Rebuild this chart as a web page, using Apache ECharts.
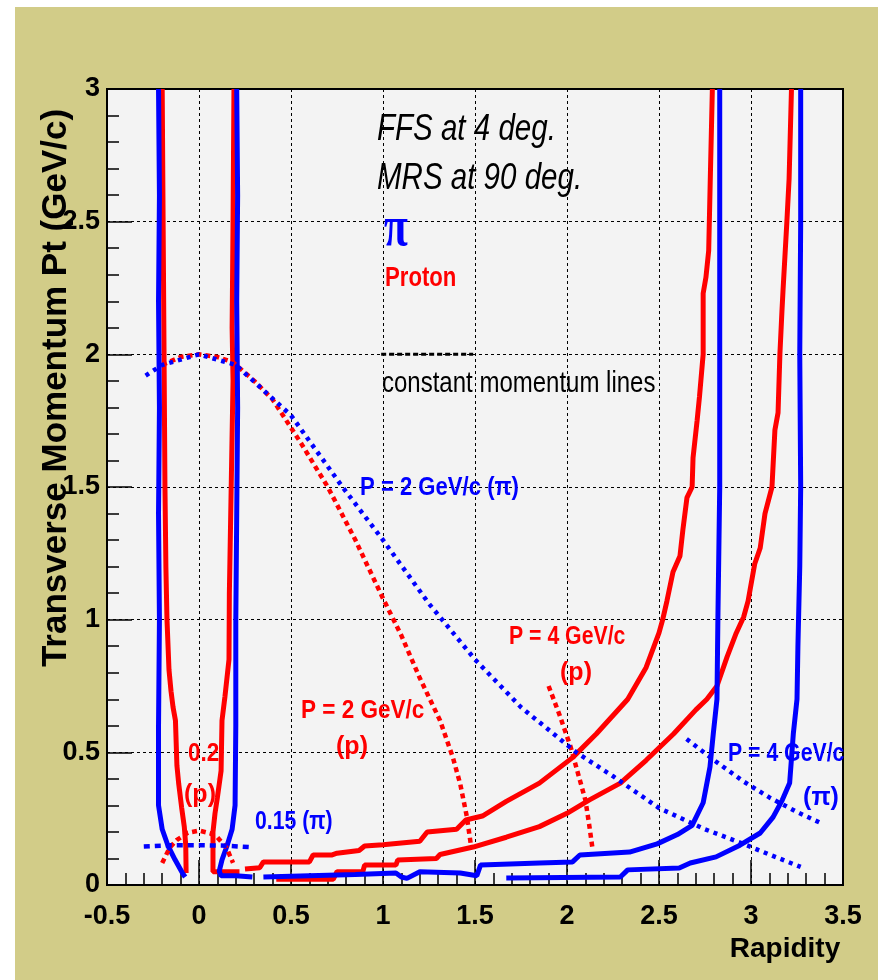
<!DOCTYPE html>
<html>
<head>
<meta charset="utf-8">
<script src="https://cdn.jsdelivr.net/npm/echarts@6/dist/echarts.min.js"></script>
<style>
html, body { margin: 0; padding: 0; background: #fff; }
#main { width: 878px; height: 980px; }
</style>
</head>
<body>
<div id="main"></div>
<script>
// acceptance boundaries, [rapidity, pt]
var blueMrsLeft = [[-0.22,3.0],[-0.215,2.6],[-0.22,2.2],[-0.215,1.8],[-0.22,1.4],[-0.215,1.0],[-0.22,0.6],[-0.22,0.3],[-0.2,0.21],[-0.168,0.147],[-0.13,0.095],[-0.09,0.045],[-0.075,0.03]];
var blueMrsRight = [[0.205,3.0],[0.21,2.6],[0.205,2.2],[0.21,1.8],[0.205,1.4],[0.2,1.0],[0.2,0.6],[0.196,0.3],[0.18,0.21],[0.152,0.147],[0.125,0.095],[0.11,0.052],[0.12,0.035],[0.2,0.035],[0.29,0.03]];
var blueFfsInner = [[0.35,0.03],[0.6,0.035],[0.85,0.04],[1.07,0.045],[1.1,0.03],[1.13,0.025],[1.2,0.05],[1.42,0.045],[1.51,0.035],[1.53,0.075],[1.85,0.083],[2.03,0.087],[2.07,0.113],[2.34,0.124],[2.49,0.155],[2.6,0.19],[2.68,0.225],[2.74,0.31],[2.777,0.445],[2.795,0.57],[2.815,0.7],[2.82,1.0],[2.83,1.5],[2.83,2.0],[2.83,2.5],[2.83,3.0]];
var blueFfsOuter = [[1.67,0.026],[2.29,0.03],[2.33,0.057],[2.61,0.064],[2.67,0.083],[2.81,0.106],[2.94,0.15],[3.05,0.196],[3.12,0.256],[3.17,0.32],[3.21,0.384],[3.23,0.57],[3.25,0.7],[3.255,0.9],[3.265,1.2],[3.27,1.5],[3.265,2.0],[3.27,2.5],[3.27,3.0]];
var redMrsLeft = [[-0.2,3.0],[-0.195,2.5],[-0.19,2.0],[-0.185,1.5],[-0.18,1.2],[-0.174,1.0],[-0.163,0.81],[-0.152,0.73],[-0.141,0.67],[-0.128,0.62],[-0.12,0.45],[-0.11,0.38],[-0.094,0.29],[-0.08,0.22],[-0.072,0.15],[-0.07,0.045]];
var redMrsRight = [[0.19,3.0],[0.185,2.5],[0.18,2.1],[0.185,1.9],[0.175,1.5],[0.165,1.1],[0.163,0.85],[0.141,0.71],[0.125,0.62],[0.12,0.43],[0.1,0.33],[0.087,0.27],[0.076,0.2],[0.076,0.05],[0.15,0.05],[0.22,0.05]];
var redFfsInner = [[0.25,0.06],[0.33,0.065],[0.35,0.087],[0.6,0.087],[0.62,0.113],[0.72,0.113],[0.75,0.12],[0.87,0.13],[0.9,0.147],[1.0,0.152],[1.2,0.165],[1.24,0.2],[1.4,0.21],[1.45,0.245],[1.54,0.26],[1.67,0.315],[1.85,0.384],[2.03,0.48],[2.16,0.57],[2.33,0.7],[2.43,0.82],[2.5,0.95],[2.52,1.0],[2.543,1.07],[2.576,1.18],[2.614,1.24],[2.63,1.34],[2.652,1.46],[2.68,1.5],[2.685,1.61],[2.707,1.75],[2.72,1.84],[2.74,2.0],[2.74,2.23],[2.755,2.29],[2.77,2.39],[2.78,2.7],[2.79,3.0]];
var redFfsOuter = [[0.42,0.022],[0.73,0.022],[0.75,0.05],[0.89,0.05],[0.9,0.075],[1.07,0.075],[1.08,0.094],[1.29,0.1],[1.31,0.115],[1.49,0.143],[1.67,0.18],[1.85,0.22],[2.0,0.27],[2.12,0.32],[2.29,0.384],[2.43,0.47],[2.58,0.57],[2.7,0.66],[2.76,0.7],[2.815,0.75],[2.87,0.86],[2.92,0.95],[2.96,1.01],[2.984,1.07],[3.02,1.21],[3.05,1.27],[3.076,1.4],[3.114,1.5],[3.13,1.715],[3.147,1.78],[3.157,2.0],[3.168,2.16],[3.174,2.24],[3.195,2.5],[3.207,2.66],[3.22,3.0]];

// constant momentum lines
var pionP2 = [[-0.29,1.92],[-0.2,1.96],[0,2.0],[0.2,1.96],[0.5,1.77],[0.78,1.5],[1.0,1.3],[1.25,1.06],[1.5,0.85],[1.75,0.67],[2.05,0.5],[2.25,0.41],[2.5,0.29],[2.75,0.21],[2.94,0.16],[3.1,0.115],[3.27,0.068]];
var pionP4 = [[2.65,0.55],[2.8,0.47],[2.96,0.39],[3.1,0.33],[3.25,0.275],[3.39,0.23]];
var pionP015 = [[-0.3,0.145],[-0.15,0.15],[0,0.15],[0.15,0.148],[0.29,0.142]];
var protonP2 = [[-0.2,1.96],[-0.1,1.99],[0,2.0],[0.1,1.99],[0.185,1.97],[0.3,1.9],[0.4,1.83],[0.55,1.67],[0.7,1.5],[0.85,1.3],[1.0,1.08],[1.1,0.94],[1.2,0.78],[1.31,0.62],[1.38,0.48],[1.42,0.38],[1.455,0.26],[1.48,0.14]];
var protonP4 = [[1.9,0.75],[1.96,0.64],[2.02,0.52],[2.06,0.42],[2.1,0.32],[2.12,0.23],[2.14,0.13]];
var protonP02 = [[-0.2,0.083],[-0.16,0.14],[-0.12,0.17],[-0.06,0.197],[0,0.205],[0.06,0.195],[0.1,0.18],[0.15,0.14],[0.185,0.083]];
var legendDash = [[0.99,2.0],[1.49,2.0]];

var BLUE = '#0000ff', RED = '#ff0000';
var SANS = "'Liberation Sans', Arial, Helvetica, sans-serif";

function solid(name, data, color) {
    return { name: name, type: 'line', data: data, symbol: 'none', silent: true, z: 2,
        lineStyle: { color: color, width: 5 } };
}
function dotted(name, data, color, dash, w) {
    return { name: name, type: 'line', data: data, symbol: 'none', silent: true, z: 3,
        lineStyle: { color: color, width: w || 4.5, type: dash || [4, 5] } };
}
function label(text, x, y, color, opt) {
    opt = opt || {};
    return {
        type: 'text', x: x, y: y, z: 10, silent: true,
        scaleX: opt.scaleX || 1, rotation: opt.rotation || 0,
        style: {
            text: text, fill: color,
            fontSize: opt.size || 24, fontFamily: opt.family || SANS,
            fontWeight: opt.weight || 'bold', fontStyle: opt.style || 'normal',
            align: opt.align || 'left', textAlign: opt.align || 'left',
            verticalAlign: 'middle', textVerticalAlign: 'middle'
        }
    };
}

var axisFont = { color: '#000', fontSize: 27, fontWeight: 'bold', fontFamily: SANS };
var gridLine = { show: true, lineStyle: { color: '#000', type: [3, 3], width: 1 } };

var myChart = echarts.init(document.getElementById('main'));
myChart.setOption({
    animation: false,
    backgroundColor: '#d2cc88',
    grid: { left: 107, top: 89, right: 35, bottom: 95, show: true,
        backgroundColor: '#f3f3f3', borderColor: '#000', borderWidth: 2 },
    xAxis: {
        type: 'value', min: -0.5, max: 3.5, interval: 0.5,
        axisLine: { show: true, onZero: false, lineStyle: { color: '#000', width: 2 } },
        axisTick: { show: true, inside: true, length: 25, lineStyle: { color: '#000', width: 1.5 } },
        minorTick: { show: true, splitNumber: 5, length: 12, lineStyle: { color: '#000', width: 1.5 } },
        splitLine: gridLine,
        axisLabel: Object.assign({ margin: 18 }, axisFont)
    },
    yAxis: {
        type: 'value', min: 0, max: 3, interval: 0.5,
        axisLine: { show: true, onZero: false, lineStyle: { color: '#000', width: 2 } },
        axisTick: { show: true, inside: true, length: 25, lineStyle: { color: '#000', width: 1.5 } },
        minorTick: { show: true, splitNumber: 5, length: 12, lineStyle: { color: '#000', width: 1.5 } },
        splitLine: gridLine,
        axisLabel: Object.assign({ margin: 7 }, axisFont)
    },
    graphic: [
        { type: 'rect', shape: { x: 0, y: 0, width: 878, height: 7 }, style: { fill: '#fff' }, silent: true },
        { type: 'rect', shape: { x: 0, y: 0, width: 15, height: 980 }, style: { fill: '#fff' }, silent: true },
        label('Transverse Momentum Pt (GeV/c)', 56, 388, '#000', { size: 35, rotation: Math.PI / 2, align: 'center' }),
        label('Rapidity', 785, 949, '#000', { size: 28, align: 'center' }),
        label('FFS at 4 deg.', 377, 130, '#000', { size: 36, weight: 'normal', style: 'italic', scaleX: 0.82 }),
        label('MRS at 90 deg.', 377, 179, '#000', { size: 36, weight: 'normal', style: 'italic', scaleX: 0.82 }),
        label('π', 384, 230, BLUE, { size: 58, family: "'Liberation Serif', 'DejaVu Serif', serif", scaleX: 0.75 }),
        label('Proton', 385, 279, RED, { size: 27, scaleX: 0.82 }),
        label('constant momentum lines', 382, 384, '#000', { size: 30, weight: 'normal', scaleX: 0.8 }),
        label('P = 2 GeV/c (π)', 360, 488, BLUE, { size: 26, scaleX: 0.85 }),
        label('P = 2 GeV/c', 301, 711, RED, { size: 25, scaleX: 0.9 }),
        label('(p)', 352, 747, RED, { size: 25, align: 'center' }),
        label('P = 4 GeV/c', 509, 637, RED, { size: 25, scaleX: 0.85 }),
        label('(p)', 576, 673, RED, { size: 25, align: 'center' }),
        label('P = 4 GeV/c', 728, 754, BLUE, { size: 25, scaleX: 0.85 }),
        label('(π)', 821, 798, BLUE, { size: 25, align: 'center' }),
        label('0.2', 188, 754, RED, { size: 25, scaleX: 0.9 }),
        label('(p)', 200, 795, RED, { size: 25, align: 'center' }),
        label('0.15 (π)', 255, 822, BLUE, { size: 25, scaleX: 0.85 })
    ],
    series: [
        solid('p MRS left', redMrsLeft, RED),
        solid('p MRS right', redMrsRight, RED),
        solid('p FFS inner', redFfsInner, RED),
        solid('p FFS outer', redFfsOuter, RED),
        solid('pi MRS left', blueMrsLeft, BLUE),
        solid('pi MRS right', blueMrsRight, BLUE),
        solid('pi FFS inner', blueFfsInner, BLUE),
        solid('pi FFS outer', blueFfsOuter, BLUE),
        dotted('P=2 p', protonP2, RED, [5, 4]),
        dotted('P=4 p', protonP4, RED, [5, 4]),
        dotted('P=0.2 p', protonP02, RED, [5, 4]),
        dotted('P=2 pi', pionP2, BLUE),
        dotted('P=4 pi', pionP4, BLUE),
        dotted('P=0.15 pi', pionP015, BLUE, [6, 5]),
        dotted('legend', legendDash, '#000', [5, 3], 3)
    ]
});
</script>
</body>
</html>
